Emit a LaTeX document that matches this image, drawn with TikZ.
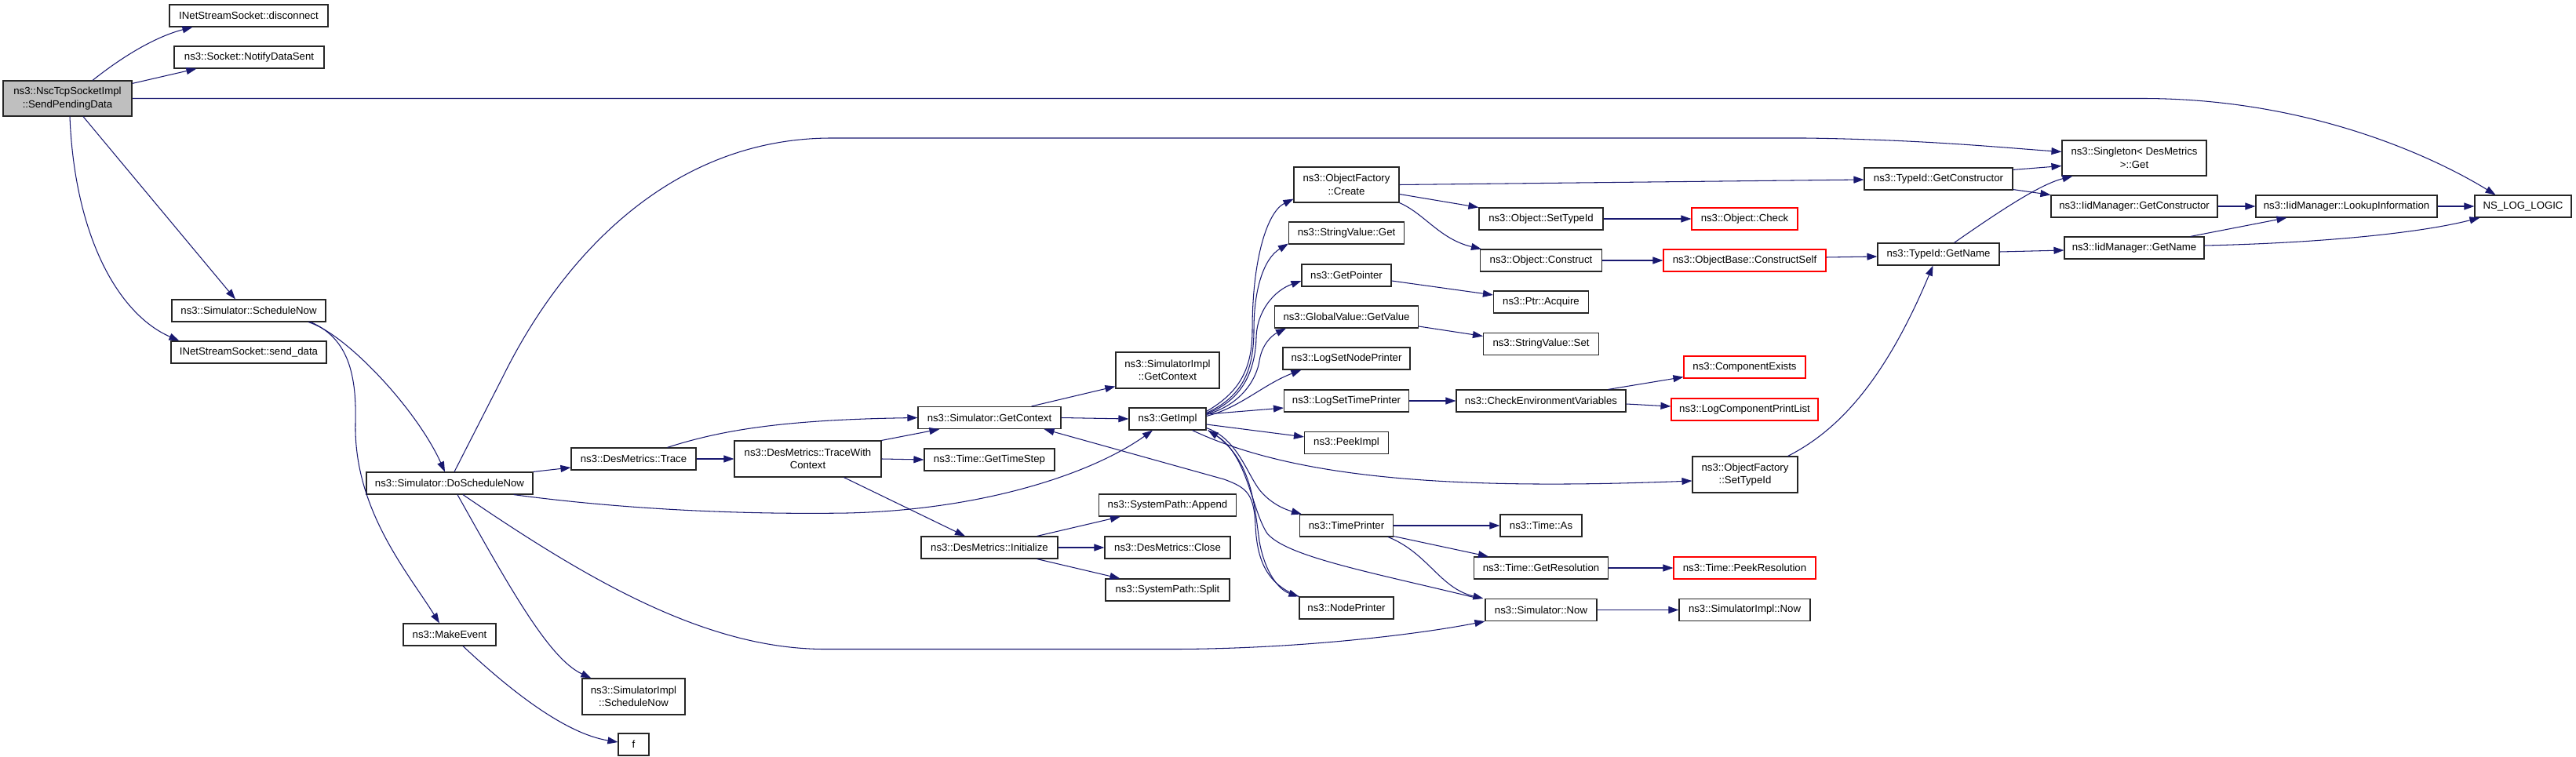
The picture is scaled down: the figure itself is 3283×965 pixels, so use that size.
\documentclass[tikz,border=0pt]{standalone}
\usepackage{fontspec}
\setmainfont{Liberation Sans}
\usetikzlibrary{arrows.meta,calc}
\definecolor{edgec}{HTML}{191970}
\definecolor{mainfill}{HTML}{BFBFBF}
\begin{document}
\begin{tikzpicture}[x=1pt,y=-1pt,
  box/.style={draw=black!85, line width=1.15pt, fill=white, inner sep=0pt, align=center,
    font=\fontsize{13.2}{16.5}\selectfont},
  redbox/.style={box, draw=red},
  e/.style={draw=edgec, line width=1.05pt, -{Triangle[length=13pt,width=9pt]}}]
\path[use as bounding box] (0,0) rectangle (3283,965);
% nodes
\node[box, fill=mainfill, minimum width=164pt, minimum height=45pt] (main) at (86,125.5) {ns3::NscTcpSocketImpl\\::SendPendingData};
\node[box, minimum width=202pt, minimum height=28pt] (disc) at (317,20) {INetStreamSocket::disconnect};
\node[box, minimum width=191pt, minimum height=28pt] (notify) at (317.5,73) {ns3::Socket::NotifyDataSent};
\node[box, minimum width=196pt, minimum height=28pt] (schednow) at (317,396) {ns3::Simulator::ScheduleNow};
\node[box, minimum width=198pt, minimum height=28pt] (senddata) at (317,449) {INetStreamSocket::send\_data};
\node[box, minimum width=212pt, minimum height=28pt] (dosched) at (573,616) {ns3::Simulator::DoScheduleNow};
\node[box, minimum width=118pt, minimum height=28pt] (makeev) at (573,809) {ns3::MakeEvent};
\node[box, minimum width=159pt, minimum height=28pt] (trace) at (807.5,585) {ns3::DesMetrics::Trace};
\node[box, minimum width=187pt, minimum height=46pt] (twc) at (1029.5,585) {ns3::DesMetrics::TraceWith\\Context};
\node[box, minimum width=131pt, minimum height=46pt] (simimplsched) at (807.5,888) {ns3::SimulatorImpl\\::ScheduleNow};
\node[box, minimum width=39pt, minimum height=28pt] (fnode) at (807.5,949) {f};
\node[box, minimum width=132pt, minimum height=46pt] (simimplctx) at (1488,472) {ns3::SimulatorImpl\\::GetContext};
\node[box, minimum width=182pt, minimum height=28pt] (getctx) at (1261,532.5) {ns3::Simulator::GetContext};
\node[box, minimum width=98pt, minimum height=28pt] (getimpl) at (1488,534) {ns3::GetImpl};
\node[box, minimum width=166pt, minimum height=28pt] (timestep) at (1261,586) {ns3::Time::GetTimeStep};
\node[box, minimum width=175pt, minimum height=28pt] (append) at (1488,644) {ns3::SystemPath::Append};
\node[box, minimum width=174pt, minimum height=28pt] (init) at (1261,698) {ns3::DesMetrics::Initialize};
\node[box, minimum width=160pt, minimum height=28pt] (close) at (1488,698) {ns3::DesMetrics::Close};
\node[box, minimum width=158pt, minimum height=28pt] (split) at (1488,752) {ns3::SystemPath::Split};
\node[box, minimum width=134pt, minimum height=45pt] (create) at (1716,235.5) {ns3::ObjectFactory\\::Create};
\node[box, minimum width=147pt, minimum height=28pt] (svget) at (1716,297) {ns3::StringValue::Get};
\node[box, minimum width=114pt, minimum height=28pt] (getptr) at (1716,351) {ns3::GetPointer};
\node[box, minimum width=183pt, minimum height=28pt] (gvget) at (1716,404) {ns3::GlobalValue::GetValue};
\node[box, minimum width=162pt, minimum height=28pt] (lsnp) at (1716,457) {ns3::LogSetNodePrinter};
\node[box, minimum width=159pt, minimum height=28pt] (lstp) at (1716,511) {ns3::LogSetTimePrinter};
\node[box, minimum width=107pt, minimum height=28pt] (peek) at (1716,564.5) {ns3::PeekImpl};
\node[box, minimum width=119pt, minimum height=28pt] (tprint) at (1716,670) {ns3::TimePrinter};
\node[box, minimum width=120pt, minimum height=28pt] (nprint) at (1716,775) {ns3::NodePrinter};
\node[box, minimum width=158pt, minimum height=28pt] (osettid) at (1964,279) {ns3::Object::SetTypeId};
\node[box, minimum width=155pt, minimum height=28pt] (oconst) at (1964,332) {ns3::Object::Construct};
\node[box, minimum width=121pt, minimum height=28pt] (acquire) at (1964,385) {ns3::Ptr::Acquire};
\node[box, minimum width=147pt, minimum height=28pt] (svset) at (1964,438.5) {ns3::StringValue::Set};
\node[box, minimum width=216pt, minimum height=28pt] (checkenv) at (1964,511) {ns3::CheckEnvironmentVariables};
\node[box, minimum width=104pt, minimum height=28pt] (tas) at (1964,670) {ns3::Time::As};
\node[box, minimum width=171pt, minimum height=28pt] (getres) at (1964,724) {ns3::Time::GetResolution};
\node[box, minimum width=142pt, minimum height=28pt] (simnow) at (1964,777.5) {ns3::Simulator::Now};
\node[redbox, minimum width=135pt, minimum height=28pt] (ocheck) at (2223.5,279) {ns3::Object::Check};
\node[redbox, minimum width=207pt, minimum height=28pt] (cself) at (2223.5,332) {ns3::ObjectBase::ConstructSelf};
\node[redbox, minimum width=155pt, minimum height=28pt] (compex) at (2223.5,468) {ns3::ComponentExists};
\node[redbox, minimum width=187pt, minimum height=28pt] (lcpl) at (2223.5,522) {ns3::LogComponentPrintList};
\node[box, minimum width=134pt, minimum height=46pt] (ofsettid) at (2224,605) {ns3::ObjectFactory\\::SetTypeId};
\node[redbox, minimum width=181pt, minimum height=28pt] (peekres) at (2223.5,724) {ns3::Time::PeekResolution};
\node[box, minimum width=167pt, minimum height=28pt] (simimplnow) at (2223.5,777.5) {ns3::SimulatorImpl::Now};
\node[box, minimum width=189pt, minimum height=28pt] (tidgc) at (2470.5,228) {ns3::TypeId::GetConstructor};
\node[box, minimum width=155pt, minimum height=28pt] (tidgn) at (2470.5,324) {ns3::TypeId::GetName};
\node[box, minimum width=184pt, minimum height=45pt] (singleton) at (2720,201.5) {ns3::Singleton< DesMetrics\\ >::Get};
\node[box, minimum width=212pt, minimum height=28pt] (iidgc) at (2720,263) {ns3::IidManager::GetConstructor};
\node[box, minimum width=178pt, minimum height=28pt] (iidgn) at (2720,316) {ns3::IidManager::GetName};
\node[box, minimum width=231pt, minimum height=28pt] (lookup) at (2990.5,263) {ns3::IidManager::LookupInformation};
\node[box, minimum width=123pt, minimum height=28pt] (nslog) at (3215.5,263) {NS\_LOG\_LOGIC};
% edges from main
\draw[e] ($(main.north)+(32,0)$) .. controls (165,65) and (205,45) .. ($(disc.south west)+(30,0)$);
\draw[e] ($(main.north east)+(0,4)$) -- ($(notify.south west)+(29,0)$);
\draw[e] (main.east) -- (2730,125.5) .. controls (2950,125.5) and (3110,205) .. ($(nslog.north)+(-35,0)$);
\draw[e] ($(main.south)+(20,0)$) -- ($(schednow.north)+(-17,0)$);
\draw[e] ($(main.south)+(3,0)$) .. controls (95,300) and (150,400) .. ($(senddata.north west)+(11,0)$);
% ScheduleNow
\draw[e] ($(schednow.south)+(76,0)$) .. controls (440,425) and (530,520) .. ($(dosched.north)+(-6,0)$);
\draw[e] ($(schednow.south)+(79,0)$) .. controls (440,430) and (455,470) .. (453,540) .. controls (451,650) and (520,730) .. ($(makeev.north)+(-13,0)$);
% DoScheduleNow
\draw[e] ($(dosched.north)+(6,0)$) -- (641,480) .. controls (720,320) and (860,176) .. (1060,176) -- (2300,176) .. controls (2450,178) and (2550,188) .. ($(singleton.west)+(0,-8)$);
\draw[e] (dosched.north east) -- ($(trace.west)+(0,11)$);
\draw[e] ($(dosched.south east)+(-25,0)$) .. controls (800,650) and (950,656) .. (1080,654) .. controls (1250,650) and (1390,605) .. ($(getimpl.south)+(-19,0)$);
\draw[e] ($(dosched.south)+(10,0)$) .. controls (650,750) and (700,840) .. ($(simimplsched.north west)+(12,0)$);
\draw[e] ($(dosched.south)+(17,0)$) .. controls (750,740) and (900,827) .. (1050,827.5) -- (1500,827.5) .. controls (1650,827) and (1800,810) .. (simnow.south west);
\draw[e] ($(makeev.south)+(17,0)$) .. controls (650,880) and (720,935) .. ($(fnode.west)+(0,-3)$);
% Trace
\draw[e] (trace.east) -- (twc.west);
\draw[e] ($(trace.north)+(43,0)$) .. controls (920,548) and (1000,535) .. (getctx.west);
\draw[e] (twc.north east) -- ($(getctx.south west)+(28,0)$);
\draw[e] (twc.east) -- (timestep.west);
\draw[e] ($(twc.south)+(46,0)$) -- ($(init.north)+(-31,0)$);
% GetContext
\draw[e] ($(getctx.north east)+(-38,0)$) -- ($(simimplctx.south west)+(0,-3)$);
\draw[e] (getctx.east) -- (getimpl.west);
% Initialize
\draw[e] ($(init.north east)+(-27,0)$) -- ($(append.south west)+(28,0)$);
\draw[e] (init.east) -- (close.west);
\draw[e] ($(init.south east)+(-27,0)$) -- ($(split.north west)+(19,0)$);
% GetImpl fan-out
\draw[e] ($(getimpl.north east)+(0,5)$) .. controls (1580,500) and (1596,470) .. (1596,420) .. controls (1596,330) and (1615,270) .. ($(create.south west)+(0,-5)$);
\draw[e] ($(getimpl.north east)+(0,7)$) .. controls (1585,505) and (1598,470) .. (1598,420) .. controls (1598,370) and (1610,330) .. ($(svget.south west)+(0,-1)$);
\draw[e] ($(getimpl.north east)+(0,8)$) .. controls (1585,510) and (1600,470) .. (1601,430) .. controls (1602,395) and (1625,370) .. ($(getptr.west)+(0,7)$);
\draw[e] ($(getimpl.north east)+(0,9)$) .. controls (1585,515) and (1602,480) .. (1605,460) .. controls (1608,440) and (1620,428) .. ($(gvget.south west)+(15,0)$);
\draw[e] ($(getimpl.north east)+(0,11)$) .. controls (1580,520) and (1610,490) .. ($(lsnp.south west)+(24,0)$);
\draw[e] ($(getimpl.east)+(0,-6)$) -- ($(lstp.west)+(0,9)$);
\draw[e] ($(getimpl.east)+(0,7)$) -- ($(peek.north west)+(0,7)$);
\draw[e] ($(getimpl.south east)+(-18,0)$) .. controls (1650,610) and (1850,625) .. ($(ofsettid.west)+(0,8)$);
\draw[e] ($(getimpl.south east)+(0,-3)$) .. controls (1580,560) and (1590,610) .. (1610,630) .. controls (1625,645) and (1640,650) .. ($(tprint.north west)+(3,0)$);
\draw[e] ($(getimpl.south east)+(2,0)$) .. controls (1595,580) and (1598,640) .. (1605,690) .. controls (1612,730) and (1630,752) .. (nprint.north west);
\draw[e] ($(simnow.north west)+(-8,0)$) .. controls (1750,730) and (1640,710) .. (1615,680) .. controls (1595,650) and (1590,580) .. ($(getimpl.south east)+(2,0)$);
\draw[e] (nprint.north west) .. controls (1615,745) and (1602,715) .. (1600,670) .. controls (1598,630) and (1590,622) .. (1560,611) -- ($(getctx.south east)+(-22,0)$);
% rank 7 -> 8
\draw[e] (create.east) -- ($(tidgc.west)+(0,1)$);
\draw[e] ($(create.east)+(0,12)$) -- (osettid.north west);
\draw[e] (create.south east) .. controls (1815,272) and (1835,305) .. ($(oconst.north west)+(2,0)$);
\draw[e] (osettid.east) -- (ocheck.west);
\draw[e] (oconst.east) -- (cself.west);
\draw[e] ($(getptr.east)+(0,7)$) -- ($(acquire.west)+(0,-9)$);
\draw[e] ($(gvget.east)+(0,12)$) -- ($(svset.west)+(0,-10)$);
\draw[e] (lstp.east) -- (checkenv.west);
\draw[e] ($(checkenv.north east)+(-23,0)$) -- ($(compex.south west)+(0,-2)$);
\draw[e] ($(checkenv.east)+(0,4)$) -- ($(lcpl.west)+(0,-4)$);
\draw[e] (tprint.east) -- (tas.west);
\draw[e] ($(tprint.south east)+(0,-1)$) -- ($(getres.north west)+(19,0)$);
\draw[e] ($(tprint.south east)+(-7,0)$) .. controls (1820,705) and (1835,750) .. ($(simnow.north west)+(-2,0)$);
\draw[e] (getres.east) -- (peekres.west);
\draw[e] (simnow.east) -- (simimplnow.west);
% right part
\draw[e] ($(ofsettid.north east)+(-13,0)$) .. controls (2340,550) and (2400,490) .. ($(tidgn.south)+(-7,0)$);
\draw[e] ($(cself.east)+(0,-4)$) -- ($(tidgn.west)+(0,3)$);
\draw[e] ($(tidgc.north east)+(0,3)$) -- ($(singleton.west)+(0,10)$);
\draw[e] ($(tidgc.south east)+(0,-1)$) -- (iidgc.north west);
\draw[e] ($(tidgn.north)+(20,0)$) .. controls (2550,268) and (2600,235) .. ($(singleton.south west)+(14,0)$);
\draw[e] ($(tidgn.east)+(0,-3)$) -- ($(iidgn.west)+(0,3)$);
\draw[e] (iidgc.east) -- (lookup.west);
\draw[e] ($(iidgn.north east)+(-18,0)$) -- ($(lookup.south west)+(40,0)$);
\draw[e] ($(iidgn.east)+(0,-3)$) .. controls (2950,310) and (3080,298) .. ($(nslog.south west)+(7,0)$);
\draw[e] (lookup.east) -- (nslog.west);
\end{tikzpicture}
\end{document}
